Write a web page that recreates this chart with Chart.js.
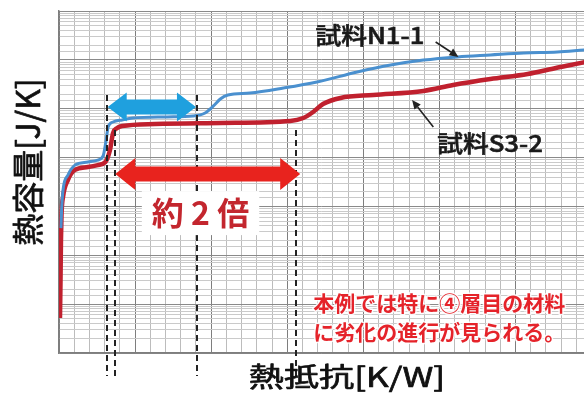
<!DOCTYPE html>
<html><head><meta charset="utf-8">
<script src="https://cdn.jsdelivr.net/npm/chart.js@4.4.1/dist/chart.umd.min.js"></script>
<style>html,body{margin:0;padding:0;background:#fff;overflow:hidden}#wrap{width:584px;height:398px;position:relative}</style>
</head><body><div id="wrap"><canvas id="c" width="584" height="398"></canvas></div>
<script>
// ---- data ----
const seriesNames = ['試料N1-1', '試料S3-2'];
// thermal resistance [K/W]
const n11X = [0.026, 0.033, 0.053, 0.118, 0.21, 0.38, 0.51, 0.58, 0.62, 0.645, 0.71, 0.83, 0.97, 1.42, 1.76, 1.92, 2.03, 2.12, 2.22, 2.51, 2.95, 3.39, 3.92, 4.36, 4.79, 5.24, 5.67, 6.11, 6.55, 6.91, 7.12];
// thermal capacitance [J/K]
const n11Y = [3.6e-3, 7.7e-3, 2.17e-2, 4.4e-2, 7.0e-2, 8.1e-2, 8.9e-2, 0.108, 0.229, 0.42, 0.535, 0.59, 0.645, 0.68, 0.71, 0.817, 1.14, 1.58, 1.91, 2.10, 2.65, 3.52, 5.65, 7.85, 9.9, 11.5, 12.6, 13.8, 14.5, 15.9, 16.7];
const s32X = [0.013, 0.02, 0.026, 0.033, 0.053, 0.118, 0.21, 0.38, 0.51, 0.61, 0.67, 0.71, 0.76, 0.83, 1.26, 2.12, 3.04, 3.21, 3.34, 3.47, 3.70, 4.13, 4.79, 5.18, 5.67, 6.16, 6.53, 6.91, 7.12];
const s32Y = [5.2e-5, 3.1e-4, 2.06e-3, 6.7e-3, 1.56e-2, 3.5e-2, 5.6e-2, 6.4e-2, 7.0e-2, 8.1e-2, 0.143, 0.318, 0.40, 0.443, 0.487, 0.51, 0.56, 0.645, 0.857, 1.25, 1.66, 1.91, 2.31, 3.06, 4.06, 5.14, 6.81, 9.0, 10.9];
const xRange = [0, 6.9];
const yRange = [1e-5, 100];
const xAxisTitle = '熱抵抗[K/W]';
const yAxisTitle = '熱容量[J/K]';
const ratioLabel = '約 2 倍';
const noteLines = ['本例では特に④層目の材料', 'に劣化の進行が見られる。'];

// ---- annotations (in data units) ----
const annot = {
  dashed: [{x: 0.63, top: 1.91}, {x: 0.74, top: 0.367}, {x: 1.82, top: 1.91}, {x: 3.12, top: 0.367}],
  blueArrow: {from: 0.64, to: 1.80, y: 1.08},
  redArrow: {from: 0.74, to: 3.17, y: 0.046},
  ratio: {x: 1.86, y: 7.3e-3},
  labelN: {x: 3.37, y: 21.1, ax: 4.95, ay: 23.2, bx: 5.25, by: 11.5},
  labelS: {x: 4.97, y: 0.130, ax: 4.92, ay: 0.423, bx: 4.64, by: 1.51},
  note: {x: 3.34, y1: 7.2e-5, y2: 1.85e-5}
};

const FONT = '"Noto Sans CJK JP", "Noto Sans", sans-serif';
const isMajorX = v => Math.abs(v - Math.round(v)) < 1e-6;
const isMajorY = v => { const l = Math.log10(v); return Math.abs(l - Math.round(l)) < 1e-6; };

function doubleArrow(ctx, x1, x2, yc, shaftH, headH, headL, color) {
  ctx.save();
  ctx.fillStyle = color;
  ctx.beginPath();
  ctx.moveTo(x1, yc);
  ctx.lineTo(x1 + headL, yc - headH / 2);
  ctx.lineTo(x1 + headL, yc - shaftH / 2);
  ctx.lineTo(x2 - headL, yc - shaftH / 2);
  ctx.lineTo(x2 - headL, yc - headH / 2);
  ctx.lineTo(x2, yc);
  ctx.lineTo(x2 - headL, yc + headH / 2);
  ctx.lineTo(x2 - headL, yc + shaftH / 2);
  ctx.lineTo(x1 + headL, yc + shaftH / 2);
  ctx.lineTo(x1 + headL, yc + headH / 2);
  ctx.closePath();
  ctx.fill();
  ctx.restore();
}
function pointerArrow(ctx, ax, ay, bx, by) {
  ctx.save();
  ctx.strokeStyle = '#222'; ctx.fillStyle = '#222'; ctx.lineWidth = 1.6;
  const ang = Math.atan2(by - ay, bx - ax);
  const L = 9, W = 4;
  const ex = bx - L * Math.cos(ang), ey = by - L * Math.sin(ang);
  ctx.beginPath(); ctx.moveTo(ax, ay); ctx.lineTo(ex, ey); ctx.stroke();
  ctx.beginPath();
  ctx.moveTo(bx, by);
  ctx.lineTo(ex + W * Math.sin(ang), ey - W * Math.cos(ang));
  ctx.lineTo(ex - W * Math.sin(ang), ey + W * Math.cos(ang));
  ctx.closePath(); ctx.fill();
  ctx.restore();
}
function scaledText(ctx, text, x, y, sx) {
  ctx.save(); ctx.translate(x, y); ctx.scale(sx, 1); ctx.fillText(text, 0, 0); ctx.restore();
}

const annotPlugin = {
  id: 'annot',
  afterDraw(chart) {
    const {ctx, chartArea} = chart;
    const xs = chart.scales.x, ys = chart.scales.y;
    const px = v => xs.getPixelForValue(v), py = v => ys.getPixelForValue(v);
    ctx.save();
    // dashed guide lines
    ctx.strokeStyle = '#222'; ctx.lineWidth = 2; ctx.setLineDash([6, 4]);
    annot.dashed.forEach(d => {
      const X = Math.round(px(d.x));
      ctx.beginPath(); ctx.moveTo(X, py(d.top)); ctx.lineTo(X, chartArea.bottom + 23); ctx.stroke();
    });
    ctx.setLineDash([]);
    // ratio label with white box
    ctx.font = 'bold 32px ' + FONT;
    const tw = ctx.measureText(ratioLabel).width;
    const rx = px(annot.ratio.x), ry = py(annot.ratio.y);
    ctx.fillStyle = '#fff';
    ctx.fillRect(rx - tw / 2 - 10, ry - 22, tw + 20, 44);
    ctx.fillStyle = '#c3262e'; ctx.textAlign = 'center'; ctx.textBaseline = 'middle';
    ctx.fillText(ratioLabel, rx, ry);
    // double arrows
    doubleArrow(ctx, px(annot.blueArrow.from), px(annot.blueArrow.to), py(annot.blueArrow.y), 15, 29, 19, '#1fa0de');
    doubleArrow(ctx, px(annot.redArrow.from), px(annot.redArrow.to), py(annot.redArrow.y), 15, 32, 20, '#e8231e');
    // series labels
    ctx.font = '500 23px ' + FONT; ctx.fillStyle = '#1a1a1a'; ctx.textAlign = 'left'; ctx.textBaseline = 'alphabetic';
    ctx.strokeStyle = '#1a1a1a'; ctx.lineWidth = 0.6;
    [[seriesNames[0], annot.labelN], [seriesNames[1], annot.labelS]].forEach(([t, a]) => {
      ctx.save(); ctx.translate(px(a.x), py(a.y)); ctx.scale(1.12, 1);
      ctx.fillText(t, 0, 0); ctx.strokeText(t, 0, 0); ctx.restore();
    });
    pointerArrow(ctx, px(annot.labelN.ax), py(annot.labelN.ay), px(annot.labelN.bx), py(annot.labelN.by));
    pointerArrow(ctx, px(annot.labelS.ax), py(annot.labelS.ay), px(annot.labelS.bx), py(annot.labelS.by));
    // note
    ctx.font = 'bold 21px ' + FONT; ctx.lineJoin = 'round';
    ctx.strokeStyle = 'rgba(255,255,255,0.85)'; ctx.lineWidth = 3; ctx.fillStyle = '#e5232a';
    [annot.note.y1, annot.note.y2].forEach((yv, i) => {
      ctx.strokeText(noteLines[i], px(annot.note.x), py(yv));
      ctx.fillText(noteLines[i], px(annot.note.x), py(yv));
    });
    // axis titles
    ctx.fillStyle = '#111'; ctx.strokeStyle = '#111'; ctx.lineWidth = 0.7;
    ctx.save();
    ctx.translate(chartArea.left + 288, chartArea.bottom + 24);
    ctx.scale(1.3, 1);
    ctx.font = '27px ' + FONT; ctx.textAlign = 'center'; ctx.textBaseline = 'middle';
    ctx.fillText(xAxisTitle, 0, 0); ctx.strokeText(xAxisTitle, 0, 0);
    ctx.restore();
    ctx.save();
    ctx.translate(28, 162);
    ctx.rotate(-Math.PI / 2);
    ctx.font = '32px ' + FONT; ctx.textAlign = 'center'; ctx.textBaseline = 'middle';
    ctx.fillText(yAxisTitle, 0, 0); ctx.strokeText(yAxisTitle, 0, 0);
    ctx.restore();
    ctx.restore();
  }
};

new Chart(document.getElementById('c'), {
  type: 'line',
  data: {
    datasets: [
      {label: seriesNames[0], data: n11X.map((x, i) => ({x, y: n11Y[i]})), borderColor: '#4a90cf', borderWidth: 3, pointRadius: 0, cubicInterpolationMode: 'monotone', fill: false},
      {label: seriesNames[1], data: s32X.map((x, i) => ({x, y: s32Y[i]})), borderColor: '#c0202e', borderWidth: 4.5, pointRadius: 0, cubicInterpolationMode: 'monotone', fill: false}
    ]
  },
  options: {
    responsive: false, animation: false, devicePixelRatio: 1,
    layout: {padding: {left: 59, top: 11, right: 0, bottom: 45}},
    plugins: {legend: {display: false}, tooltip: {enabled: false}},
    scales: {
      x: {type: 'linear', min: xRange[0], max: xRange[1],
        ticks: {display: false, stepSize: 0.2, includeBounds: false},
        grid: {drawTicks: false, color: c => (c.tick && isMajorX(c.tick.value)) ? '#7e7e7e' : '#bcbcbc', lineWidth: 1},
        border: {color: '#7e7e7e', width: 1.5}},
      y: {type: 'logarithmic', min: yRange[0], max: yRange[1],
        ticks: {display: false},
        grid: {drawTicks: false, color: c => (c.tick && isMajorY(c.tick.value)) ? '#8a8a8a' : '#cacaca', lineWidth: 1},
        border: {color: '#7e7e7e', width: 1.5}}
    }
  },
  plugins: [annotPlugin]
});
</script></body></html>
